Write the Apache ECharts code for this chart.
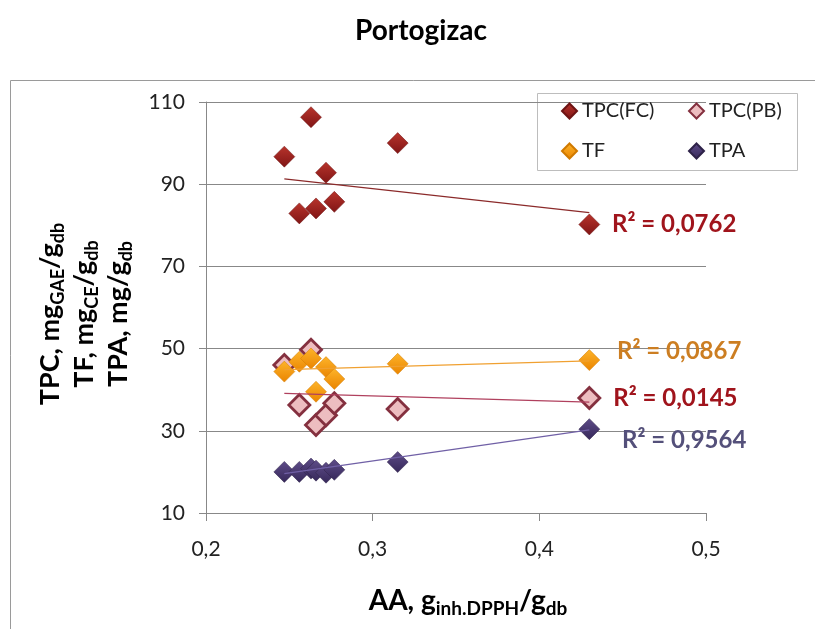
<!DOCTYPE html>
<html><head><meta charset="utf-8">
<script src="https://cdn.jsdelivr.net/npm/echarts@6/dist/echarts.min.js"></script>
<style>html,body{margin:0;padding:0;background:#fff}#c{width:815px;height:629px}</style>
</head><body><div id="c"></div>
<script>
// ---- data ----
const seriesNames = ['TPC(FC)', 'TPC(PB)', 'TF', 'TPA'];
const sampleAA = [0.247, 0.256, 0.263, 0.266, 0.272, 0.277, 0.315, 0.430];
const tpcFC = [96.7, 82.9, 106.3, 84.1, 92.8, 85.7, 100.0, 80.2];
const tpcPB = [46.0, 36.3, 49.7, 31.4, 33.8, 36.7, 35.3, 38.0];
const tf    = [44.4, 46.8, 47.6, 39.5, 45.5, 42.6, 46.3, 47.2];
const tpa   = [20.0, 20.0, 20.8, 20.3, 19.8, 20.5, 22.4, 30.4];
// trend line end values (x from first to last sample)
const trendX   = [0.247, 0.430];
const trendFC  = [91.3, 83.1];
const trendPB  = [39.1, 37.0];
const trendTF  = [44.9, 47.0];
const trendTPA = [19.6, 30.2];
const r2Text = ['R² = 0,0762', 'R² = 0,0145', 'R² = 0,0867', 'R² = 0,9564'];
const yTicks = [10, 30, 50, 70, 90, 110];
const xTicks = [0.2, 0.3, 0.4, 0.5];

const FONT = 'Lato, "Open Sans", sans-serif';
const chart = echarts.init(document.getElementById('c'));

function grad(top, bottom) {
  return { type: 'linear', x: 0, y: 0, x2: 0, y2: 1,
    colorStops: [{ offset: 0, color: top }, { offset: 1, color: bottom }] };
}
const markerStyles = [
  { color: grad('#B8342C', '#801515'), borderColor: '#6E1414', borderWidth: 0.5, opacity: 1 },
  { color: '#EDBDC0', borderColor: '#84303F', borderWidth: 2.8, opacity: 1 },
  { color: grad('#FDB42A', '#EA8400'), borderColor: '#D07A00', borderWidth: 0.5, opacity: 1 },
  { color: grad('#5E4C88', '#36285A'), borderColor: '#2E2248', borderWidth: 0.5, opacity: 1 }
];
const labelStyles = [
  { color: '#A0141C', distance: 12, offset: [0, 0] },
  { color: '#A0141C', distance: 12, offset: [0, 0] },
  { color: '#CC7E22', distance: 17, offset: [0, -9] },
  { color: '#54507A', distance: 22, offset: [0, 11] }
];
const valueSets = [tpcFC, tpcPB, tf, tpa];
const trendSets = [trendFC, trendPB, trendTF, trendTPA];
const trendColors = ['#8B2A2A', '#B0405E', '#F0A030', '#7060A6'];

function pts(ys, k) {
  return sampleAA.map((x, i) => {
    if (i !== sampleAA.length - 1) return [x, ys[i]];
    return { value: [x, ys[i]], label: {
      show: true, position: 'right', distance: labelStyles[k].distance, offset: labelStyles[k].offset,
      formatter: r2Text[k], color: labelStyles[k].color, fontSize: 24, fontWeight: 'bold', fontFamily: FONT } };
  });
}

const scatterSeries = seriesNames.map((name, k) => ({
  name, type: 'scatter', symbol: 'diamond', symbolSize: 21,
  itemStyle: markerStyles[k], data: pts(valueSets[k], k), z: 2,
  emphasis: { disabled: true }
}));
const trendSeries = trendSets.map((t, k) => ({
  name: 'trend' + k, type: 'line', symbol: 'none', silent: true,
  data: trendX.map((x, i) => [x, t[i]]),
  lineStyle: { color: trendColors[k], width: 1.3, opacity: 1 }, z: 3
}));

const sub = { fontSize: 18, fontWeight: 'bold', fontFamily: FONT, color: '#000', verticalAlign: 'bottom', lineHeight: 19 };
const big = { fontSize: 27, fontWeight: 'bold', fontFamily: FONT, color: '#000', lineHeight: 34 };

chart.setOption({
  backgroundColor: '#fff',
  animation: false,
  title: { text: 'Portogizac', left: 350, top: 12,
    textStyle: { fontSize: 28, fontWeight: 'bold', fontFamily: FONT, color: '#000' } },
  grid: { left: 206, right: 109, top: 102, bottom: 116 },
  legend: [
    { data: ['TPC(FC)', 'TF'], orient: 'vertical', left: 561, top: 99, padding: 0, itemGap: 16,
      icon: 'diamond', itemWidth: 15, itemHeight: 15,
      textStyle: { fontSize: 20, fontFamily: FONT, color: '#222', lineHeight: 24 } },
    { data: ['TPC(PB)', 'TPA'], orient: 'vertical', left: 688, top: 99, padding: 0, itemGap: 16,
      icon: 'diamond', itemWidth: 15, itemHeight: 15,
      textStyle: { fontSize: 20, fontFamily: FONT, color: '#222', lineHeight: 24 } }
  ],
  xAxis: {
    type: 'value', min: xTicks[0], max: xTicks[xTicks.length - 1], interval: 0.1,
    axisLine: { show: true, lineStyle: { color: '#888' } },
    axisTick: { show: true, length: 8, lineStyle: { color: '#888' } },
    splitLine: { show: false },
    axisLabel: { margin: 26, fontSize: 21, fontFamily: FONT, color: '#222',
      formatter: v => v.toFixed(1).replace('.', ',') }
  },
  yAxis: {
    type: 'value', min: yTicks[0], max: yTicks[yTicks.length - 1], interval: 20,
    axisLine: { show: true, lineStyle: { color: '#888' } },
    axisTick: { show: true, length: 7, lineStyle: { color: '#888' } },
    splitLine: { show: true, lineStyle: { color: '#888', width: 1 } },
    axisLabel: { margin: 21, fontSize: 21, fontFamily: FONT, color: '#222' }
  },
  series: scatterSeries.concat(trendSeries),
  graphic: [
    { type: 'rect', silent: true, shape: { x: 10.5, y: 80.5, width: 900, height: 700 },
      style: { fill: 'none', stroke: '#9a9a9a', lineWidth: 1 }, z: -10 },
    { type: 'rect', silent: true, shape: { x: 537.5, y: 93.5, width: 260, height: 77 },
      style: { fill: '#fff', stroke: '#bdbdbd', lineWidth: 1 }, z: -5 },
    { type: 'text', silent: true, x: 84, y: 314, rotation: Math.PI / 2,
      style: {
        text: '{b|TPC, mg}{s|GAE}{b|/g}{s|db}\n{b|TF, mg}{s|CE}{b|/g}{s|db}\n{b|TPA, mg/g}{s|db}',
        align: 'center', verticalAlign: 'middle', rich: { b: big, s: sub }
      } },
    { type: 'text', silent: true, x: 468, y: 601,
      style: {
        text: '{b|AA, g}{s|inh.DPPH}{b|/g}{s|db}',
        align: 'center', verticalAlign: 'middle',
        rich: { b: Object.assign({}, big, { fontSize: 28 }), s: Object.assign({}, sub, { fontSize: 19 }) }
      } }
  ]
});
</script>
</body></html>
